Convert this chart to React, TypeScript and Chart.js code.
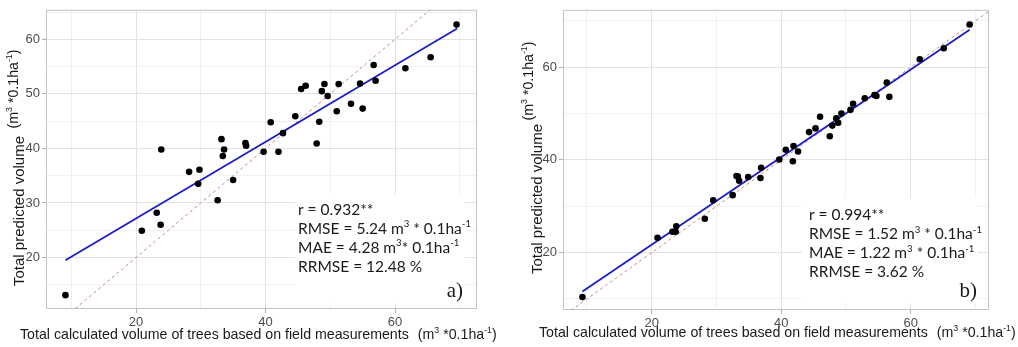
import { useEffect, useRef } from 'react';
import { Chart, registerables } from 'chart.js';

Chart.register(...registerables);

// a) field-measured vs. predicted plot volume, first model
const fieldVolumeA = [
  9.1, 20.9, 23.2, 23.8, 23.9, 28.2, 29.6, 29.8, 32.6, 33.2, 33.4, 33.6, 35.0, 36.9, 37.0,
  39.7, 40.8, 42.0, 42.7, 44.6, 45.5, 46.2, 47.9, 48.3, 48.7, 49.1, 49.6, 51.0, 51.3, 53.2,
  54.6, 55.0, 56.7, 57.0, 61.6, 65.5, 69.5,
];
const predictedVolumeA = [
  13.1, 24.9, 28.2, 26.0, 39.8, 35.7, 33.5, 36.1, 30.5, 41.7, 38.6, 39.8, 34.2, 41.0, 40.5,
  39.4, 44.8, 39.4, 42.8, 45.9, 50.9, 51.5, 40.9, 44.9, 50.5, 51.8, 49.6, 46.8, 51.8, 48.2,
  51.9, 47.3, 55.3, 52.4, 54.7, 56.7, 62.7,
];
const fitXA = [9.1, 69.6];
const fitYA = [19.5, 62.0];

// b) field-measured vs. predicted plot volume, second model
const fieldVolumeB = [
  9.3, 20.9, 23.2, 23.7, 23.8, 28.2, 29.5, 32.5, 33.1, 33.3, 33.5, 34.9, 36.8, 36.9,
  39.7, 40.7, 41.8, 41.9, 42.6, 44.3, 45.3, 46.0, 47.5, 47.9, 48.5, 48.8, 49.3, 50.7, 51.1,
  52.9, 54.4, 54.7, 56.3, 56.7, 61.4, 65.1, 69.1,
];
const predictedVolumeB = [
  10.4, 23.2, 24.5, 24.5, 25.7, 27.3, 31.3, 32.4, 36.5, 36.4, 35.5, 36.3, 36.1, 38.3,
  40.1, 42.2, 39.7, 43.0, 41.8, 46.0, 46.8, 49.3, 45.1, 47.4, 49.0, 48.0, 50.0, 50.8, 52.1,
  53.3, 54.0, 53.8, 56.7, 53.6, 61.7, 64.1, 69.2,
];
const fitXB = [9.3, 69.1];
const fitYB = [11.6, 68.1];

// 1:1 reference line
const identityX = [0, 100];

// Axis breaks (all grid lines) and the ones carrying a label
const xBreaks = [10, 20, 30, 40, 50, 60, 70];
const xLabels = [20, 40, 60];
const yBreaksA = [15, 20, 25, 30, 35, 40, 45, 50, 55, 60, 65];
const yLabelsA = [20, 30, 40, 50, 60];
const yBreaksB = [10, 20, 30, 40, 50, 60, 70];
const yLabelsB = [20, 40, 60];

type Seg = { t: string; sup?: boolean };

const unitSegs: Seg[] = [
  { t: '(m' }, { t: '3', sup: true }, { t: ' *0.1ha' }, { t: '-1', sup: true }, { t: ')' },
];
const yTitleText = 'Total predicted volume';
const xTitleText = 'Total calculated volume of trees based on field measurements';

const statsA: Seg[][] = [
  [{ t: 'r = 0.932**' }],
  [{ t: 'RMSE = 5.24 m' }, { t: '3', sup: true }, { t: ' * 0.1ha' }, { t: '-1', sup: true }],
  [{ t: 'MAE = 4.28 m' }, { t: '3', sup: true }, { t: '* 0.1ha' }, { t: '-1', sup: true }],
  [{ t: 'RRMSE = 12.48 %' }],
];
const statsB: Seg[][] = [
  [{ t: 'r = 0.994**' }],
  [{ t: 'RMSE = 1.52 m' }, { t: '3', sup: true }, { t: ' * 0.1ha' }, { t: '-1', sup: true }],
  [{ t: 'MAE = 1.22 m' }, { t: '3', sup: true }, { t: ' * 0.1ha' }, { t: '-1', sup: true }],
  [{ t: 'RRMSE = 3.62 %' }],
];

const W = 509;
const H = 347;
const SANS = '"Liberation Sans", Arial, sans-serif';
const STATS_FONT = 'Lato, "Open Sans", sans-serif';
const SERIF = '"Liberation Serif", "Times New Roman", serif';
const SUP = 0.62;

function fontOf(size: number, family: string) {
  return `${size}px ${family}`;
}

function segsWidth(ctx: CanvasRenderingContext2D, segs: Seg[], size: number, family: string) {
  let w = 0;
  for (const s of segs) {
    ctx.font = fontOf(s.sup ? size * SUP : size, family);
    w += ctx.measureText(s.t).width;
  }
  return w;
}

function drawSegs(
  ctx: CanvasRenderingContext2D,
  segs: Seg[],
  x: number,
  y: number,
  size: number,
  family: string,
  align: 'left' | 'center',
) {
  const w = segsWidth(ctx, segs, size, family);
  let cx = align === 'center' ? x - w / 2 : x;
  ctx.textAlign = 'left';
  ctx.textBaseline = 'alphabetic';
  for (const s of segs) {
    const sz = s.sup ? size * SUP : size;
    ctx.font = fontOf(sz, family);
    ctx.fillText(s.t, cx, s.sup ? y - size * 0.4 : y);
    cx += ctx.measureText(s.t).width;
  }
  return w;
}

interface Panel {
  xs: number[];
  ys: number[];
  fitX: number[];
  fitY: number[];
  xMin: number;
  xMax: number;
  yMin: number;
  yMax: number;
  yBreaks: number[];
  yLabels: number[];
  area: { left: number; right: number; top: number; bottom: number };
  box: { l: number; t: number; r: number; b: number };
  stats: Seg[][];
  statsX: number;
  statsY: number[];
  tag: string;
  tagRight: number;
  tagBase: number;
  yMain: [number, number];
  yUnit: [number, number];
  xTitle: [number, number];
}

const panelA: Panel = {
  xs: fieldVolumeA,
  ys: predictedVolumeA,
  fitX: fitXA,
  fitY: fitYA,
  xMin: 6.1,
  xMax: 72.66,
  yMin: 10.56,
  yMax: 65.41,
  yBreaks: yBreaksA,
  yLabels: yLabelsA,
  area: { left: 46, right: 477, top: 5, bottom: 309 },
  box: { l: 295, t: 195, r: 465, b: 303 },
  stats: statsA,
  statsX: 298,
  statsY: [214.5, 233.5, 252.5, 271.5],
  tag: 'a)',
  tagRight: 463,
  tagBase: 296.5,
  yMain: [23.5, 211],
  yUnit: [17.5, 89],
  xTitle: [20, 339],
};

const panelB: Panel = {
  xs: fieldVolumeB,
  ys: predictedVolumeB,
  fitX: fitXB,
  fitY: fitYB,
  xMin: 6.3,
  xMax: 72.09,
  yMin: 7.62,
  yMax: 72.38,
  yBreaks: yBreaksB,
  yLabels: yLabelsB,
  area: { left: 54, right: 480, top: 5, bottom: 310 },
  box: { l: 293, t: 198, r: 469, b: 303 },
  stats: statsB,
  statsX: 300,
  statsY: [220, 239, 258, 277],
  tag: 'b)',
  tagRight: 468,
  tagBase: 297,
  yMain: [32.5, 199],
  yUnit: [24, 81],
  xTitle: [30, 337],
};

function makeChart(canvas: HTMLCanvasElement, p: Panel) {
  const decor = {
    id: 'panelDecor',
    beforeDatasetsDraw(chart: Chart) {
      const ctx = chart.ctx;
      const a = chart.chartArea;
      ctx.save();
      ctx.fillStyle = '#ffffff';
      ctx.fillRect(p.box.l, p.box.t, p.box.r - p.box.l, p.box.b - p.box.t);
      ctx.strokeStyle = '#c4c4c4';
      ctx.lineWidth = 1;
      ctx.strokeRect(a.left + 0.5, a.top + 0.5, a.right - a.left - 1, a.bottom - a.top - 1);
      ctx.restore();
    },
    afterDraw(chart: Chart) {
      const ctx = chart.ctx;
      ctx.save();
      // statistics block
      ctx.fillStyle = '#1a1a1a';
      p.stats.forEach((line, i) => drawSegs(ctx, line, p.statsX, p.statsY[i], 15.5, STATS_FONT, 'left'));
      // panel tag
      ctx.font = fontOf(21, SERIF);
      ctx.textAlign = 'right';
      ctx.textBaseline = 'alphabetic';
      ctx.fillText(p.tag, p.tagRight, p.tagBase);
      // y-axis title (two pieces)
      ctx.fillStyle = '#1a1a1a';
      ctx.save();
      ctx.translate(p.yMain[0], p.yMain[1]);
      ctx.rotate(-Math.PI / 2);
      drawSegs(ctx, [{ t: yTitleText }], 0, 0, 15, SANS, 'center');
      ctx.restore();
      ctx.save();
      ctx.translate(p.yUnit[0], p.yUnit[1]);
      ctx.rotate(-Math.PI / 2);
      drawSegs(ctx, unitSegs, 0, 0, 14.2, SANS, 'center');
      ctx.restore();
      // x-axis title
      const w = drawSegs(ctx, [{ t: xTitleText }], p.xTitle[0], p.xTitle[1], 14.2, SANS, 'left');
      drawSegs(ctx, unitSegs, p.xTitle[0] + w + 9, p.xTitle[1], 14.2, SANS, 'left');
      ctx.restore();
    },
  };

  const gridOpts = (labels: number[]) => ({
    color: (c: any) => (labels.includes(c.tick?.value) ? '#e2e2e2' : '#ededed'),
    lineWidth: (c: any) => (labels.includes(c.tick?.value) ? 1 : 0.8),
    tickColor: (c: any) => (labels.includes(c.tick?.value) ? '#b0b0b0' : 'rgba(0,0,0,0)'),
    tickLength: 4,
    drawTicks: true,
  });

  const tickOpts = (labels: number[]) => ({
    autoSkip: false,
    padding: 2,
    color: '#4d4d4d',
    font: { family: SANS, size: 13 },
    callback: (v: any) => (labels.includes(Number(v)) ? String(v) : ''),
  });

  return new Chart(canvas, {
    type: 'scatter',
    data: {
      datasets: [
        {
          data: p.xs.map((x, i) => ({ x, y: p.ys[i] })),
          pointRadius: 3.3,
          pointBackgroundColor: '#000000',
          pointBorderColor: '#000000',
          pointBorderWidth: 0,
          showLine: false,
        },
        {
          data: p.fitX.map((x, i) => ({ x, y: p.fitY[i] })),
          showLine: true,
          borderColor: '#1c1ccc',
          borderWidth: 1.8,
          pointRadius: 0,
        },
        {
          data: identityX.map((x) => ({ x, y: x })),
          showLine: true,
          borderColor: '#c98686',
          borderWidth: 1,
          borderDash: [3, 3],
          pointRadius: 0,
        },
      ],
    },
    options: {
      animation: false,
      responsive: false,
      maintainAspectRatio: false,
      events: [],
      layout: { padding: { left: 0, top: p.area.top, right: W - p.area.right, bottom: 0 } },
      plugins: { legend: { display: false }, tooltip: { enabled: false } },
      scales: {
        x: {
          type: 'linear',
          min: p.xMin,
          max: p.xMax,
          afterBuildTicks: (s: any) => {
            s.ticks = xBreaks.map((v) => ({ value: v }));
          },
          afterFit: (s: any) => {
            s.height = H - p.area.bottom;
          },
          ticks: tickOpts(xLabels) as any,
          grid: gridOpts(xLabels) as any,
          border: { display: false },
        },
        y: {
          type: 'linear',
          min: p.yMin,
          max: p.yMax,
          afterBuildTicks: (s: any) => {
            s.ticks = p.yBreaks.map((v) => ({ value: v }));
          },
          afterFit: (s: any) => {
            s.width = p.area.left;
          },
          ticks: tickOpts(p.yLabels) as any,
          grid: gridOpts(p.yLabels) as any,
          border: { display: false },
        },
      },
    },
    plugins: [decor],
  });
}

function Panel({ spec, left }: { spec: Panel; left: number }) {
  const ref = useRef<HTMLCanvasElement>(null);
  useEffect(() => {
    if (!ref.current) return;
    const chart = makeChart(ref.current, spec);
    return () => chart.destroy();
  }, [spec]);
  return (
    <canvas
      ref={ref}
      width={W}
      height={H}
      style={{ position: 'absolute', left, top: 0, width: W, height: H }}
    />
  );
}

export default function App() {
  return (
    <div
      style={{
        position: 'fixed',
        left: 0,
        top: 0,
        width: 1018,
        height: 347,
        background: '#ffffff',
        overflow: 'hidden',
      }}
    >
      <Panel spec={panelA} left={0} />
      <Panel spec={panelB} left={509} />
    </div>
  );
}
